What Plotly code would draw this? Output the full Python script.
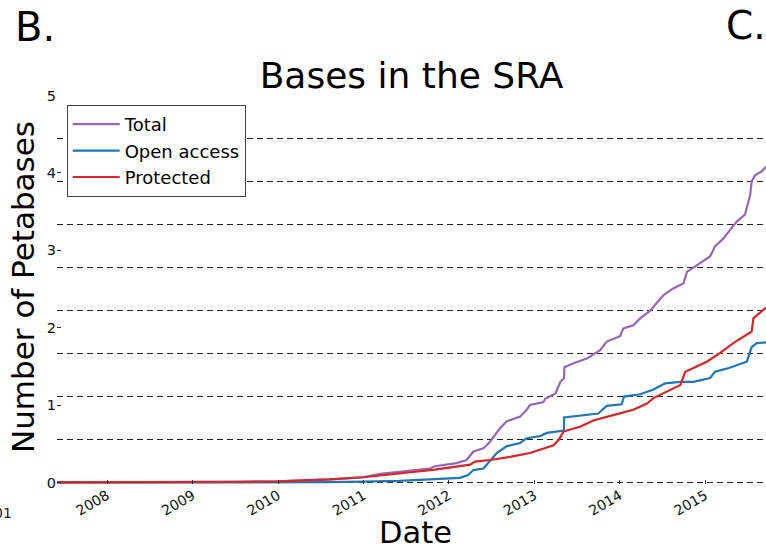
import plotly.graph_objects as go

# ---------------- data ----------------
total_dates = ["2007-06-01", "2008-01-01", "2008-07-01", "2009-01-01", "2009-07-01",
               "2010-01-01", "2010-08-11", "2011-01-01", "2011-03-13", "2011-05-23",
               "2011-10-12", "2011-11-02", "2012-02-03", "2012-03-17", "2012-04-15",
               "2012-05-28", "2012-06-26", "2012-08-07", "2012-09-05", "2012-11-01",
               "2012-11-29", "2012-12-13", "2013-02-09", "2013-02-16", "2013-03-09",
               "2013-04-01", "2013-04-22", "2013-05-08", "2013-05-09", "2013-06-17",
               "2013-08-13", "2013-10-09", "2013-11-06", "2014-01-02", "2014-01-16",
               "2014-02-28", "2014-03-29", "2014-05-11", "2014-05-25", "2014-07-07",
               "2014-08-19", "2014-09-30", "2014-10-15", "2014-11-27", "2015-01-22",
               "2015-02-12", "2015-03-19", "2015-04-17", "2015-05-16", "2015-06-20",
               "2015-07-04", "2015-07-12", "2015-07-19", "2015-08-02", "2015-08-31",
               "2015-09-18"]
total_values = [0.0, 0.0, 0.002, 0.004, 0.008,
                0.015, 0.04, 0.067, 0.11, 0.135,
                0.18, 0.21, 0.25, 0.29, 0.40,
                0.44, 0.53, 0.70, 0.79, 0.85,
                0.94, 1.00, 1.04, 1.08, 1.11,
                1.15, 1.30, 1.35, 1.49, 1.54,
                1.60, 1.71, 1.82, 1.89, 1.99,
                2.03, 2.12, 2.22, 2.27, 2.42,
                2.51, 2.57, 2.72, 2.81, 2.92,
                3.05, 3.15, 3.26, 3.37, 3.46,
                3.61, 3.71, 3.89, 3.97, 4.02,
                4.08]

open_dates = ["2007-06-01", "2010-01-01", "2010-08-01", "2011-01-01", "2011-06-01",
              "2011-10-12", "2012-02-17", "2012-03-24", "2012-04-15", "2012-05-28",
              "2012-06-18", "2012-07-24", "2012-09-05", "2012-11-01", "2012-11-29",
              "2013-01-26", "2013-02-23", "2013-05-07", "2013-05-08", "2013-07-15",
              "2013-10-01", "2013-11-06", "2014-01-09", "2014-01-19", "2014-03-29",
              "2014-05-25", "2014-07-14", "2014-09-17", "2014-11-12", "2015-01-22",
              "2015-02-12", "2015-04-03", "2015-06-28", "2015-07-19", "2015-08-10",
              "2015-09-18"]
open_values = [0.0, 0.0, 0.003, 0.01, 0.02,
               0.04, 0.06, 0.097, 0.16, 0.18,
               0.25, 0.38, 0.47, 0.51, 0.57,
               0.60, 0.64, 0.67, 0.84, 0.86,
               0.89, 0.99, 1.01, 1.11, 1.14,
               1.20, 1.28, 1.30, 1.30, 1.35,
               1.43, 1.47, 1.56, 1.75, 1.80,
               1.81]

protected_dates = ["2007-06-01", "2008-01-01", "2009-01-01", "2009-07-01", "2010-01-01",
                   "2010-08-11", "2011-01-01", "2011-03-13", "2011-10-12", "2011-11-02",
                   "2012-04-01", "2012-04-22", "2012-06-26", "2012-09-19", "2012-12-13",
                   "2013-03-09", "2013-03-24", "2013-04-15", "2013-05-06", "2013-07-15",
                   "2013-09-10", "2013-12-04", "2014-02-28", "2014-04-27", "2014-05-25",
                   "2014-09-17", "2014-10-08", "2015-01-08", "2015-03-05", "2015-05-01",
                   "2015-07-19", "2015-07-26", "2015-09-18"]
protected_values = [0.0, 0.0, 0.003, 0.007, 0.015,
                    0.04, 0.067, 0.09, 0.15, 0.165,
                    0.23, 0.27, 0.29, 0.33, 0.38,
                    0.47, 0.48, 0.55, 0.66, 0.72,
                    0.80, 0.87, 0.94, 1.02, 1.09,
                    1.26, 1.43, 1.56, 1.67, 1.80,
                    1.95, 2.12, 2.26]

year_ticks = ["2008-01-01", "2009-01-01", "2010-01-01", "2011-01-01",
              "2012-01-01", "2013-01-01", "2014-01-01", "2015-01-01"]
year_labels = ["2008", "2009", "2010", "2011", "2012", "2013", "2014", "2015"]
y_ticks = [0, 1, 2, 3, 4, 5]
y_labels = ["0", "1", "2", "3", "4", "5"]
grid_step = 5 / 9

# ---------------- styling ----------------
FONT = "DejaVu Sans"
W, H = 766, 549
ML, MR, MT, MB = 57, 0, 95, 65
PW, PH = W - ML - MR, H - MT - MB


def px_x(px):
    return (px - ML) / PW


def px_y(py):
    return (H - MB - py) / PH


fig = go.Figure()
fig.add_trace(go.Scatter(x=total_dates, y=total_values, mode="lines", name="Total",
                         line=dict(color="#9467bd", width=2.2)))
fig.add_trace(go.Scatter(x=open_dates, y=open_values, mode="lines", name="Open access",
                         line=dict(color="#1f77b4", width=2.2)))
fig.add_trace(go.Scatter(x=protected_dates, y=protected_values, mode="lines", name="Protected",
                         line=dict(color="#d62728", width=2.2)))

fig.update_layout(
    width=W, height=H,
    margin=dict(l=ML, r=MR, t=MT, b=MB, pad=0),
    paper_bgcolor="white", plot_bgcolor="white",
    font=dict(family=FONT, color="#000000"),
    title=dict(text="Bases in the SRA", font=dict(size=36, family=FONT, color="#000"),
               x=0.5, xref="paper", xanchor="center",
               y=1 - 75 / H, yref="container", yanchor="middle"),
    xaxis=dict(type="date", range=["2007-06-01", "2015-09-18"],
               tickvals=year_ticks, ticktext=year_labels, tickangle=-30,
               ticks="inside", ticklen=4, tickcolor="#333", tickwidth=1,
               tickfont=dict(size=14, family=FONT, color="#111"),
               showgrid=False, zeroline=False, showline=False),
    yaxis=dict(range=[-0.02, 5.006], tickvals=y_ticks, ticktext=y_labels,
               ticks="inside", ticklen=4, tickcolor="#333", tickwidth=1,
               tickfont=dict(size=14.5, family=FONT, color="#111"),
               showgrid=False, zeroline=False, showline=False),
    yaxis2=dict(range=[-0.02, 5.006], overlaying="y", anchor="x", side="left",
                tick0=0, dtick=grid_step, showticklabels=False, ticks="",
                showgrid=True, gridcolor="#222", gridwidth=1.2, griddash="6px,4px",
                zeroline=False, showline=False),
    legend=dict(x=px_x(66.7), y=px_y(105), xanchor="left", yanchor="top",
                bgcolor="white", bordercolor="#444", borderwidth=1,
                font=dict(size=18, family=FONT, color="#000"),
                itemwidth=47),
    showlegend=True,
)

# invisible trace to activate the gridline axis
fig.add_trace(go.Scatter(x=[year_ticks[0]], y=[0], yaxis="y2", mode="markers",
                         marker=dict(opacity=0), showlegend=False, hoverinfo="skip"))

fig.add_annotation(text="Date", xref="paper", yref="paper", x=px_x(415.5), y=px_y(532),
                   xanchor="center", yanchor="middle", showarrow=False,
                   font=dict(size=30.5, family=FONT, color="#000"))
fig.add_annotation(text="Number of Petabases", xref="paper", yref="paper",
                   x=px_x(23), y=px_y(287), xanchor="center", yanchor="middle",
                   textangle=-90, showarrow=False,
                   font=dict(size=31, family=FONT, color="#000"))
fig.add_annotation(text="B.", xref="paper", yref="paper", x=px_x(13), y=px_y(27),
                   xanchor="left", yanchor="middle", showarrow=False,
                   font=dict(size=40, family=FONT, color="#000"))
fig.add_annotation(text="C.", xref="paper", yref="paper", x=px_x(724), y=px_y(26),
                   xanchor="left", yanchor="middle", showarrow=False,
                   font=dict(size=39, family=FONT, color="#000"))
fig.add_annotation(text="01", xref="paper", yref="paper", x=px_x(14), y=px_y(513),
                   xanchor="right", yanchor="middle", showarrow=False,
                   font=dict(size=14, family=FONT, color="#222"))

fig.write_html("out.html", config={"displayModeBar": False},
               post_script="document.body.style.margin='0px';")
